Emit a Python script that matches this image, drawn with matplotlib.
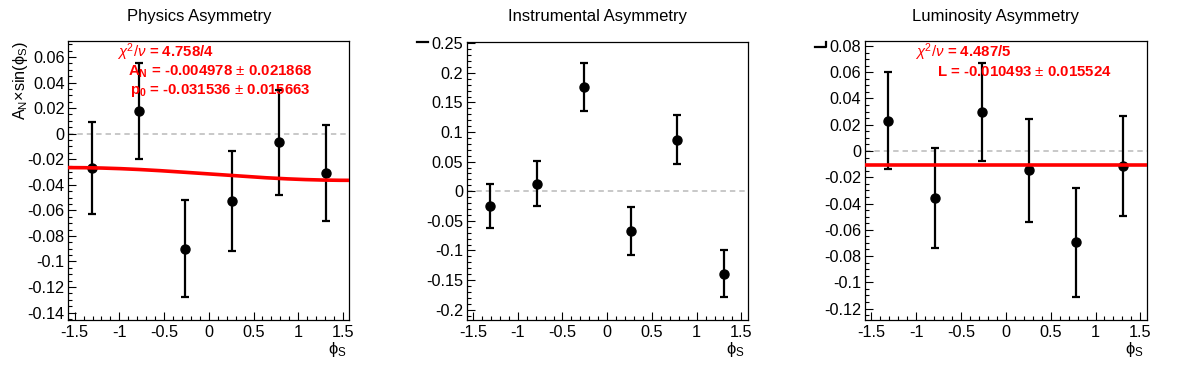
import numpy as np
import matplotlib
matplotlib.use("Agg")
import matplotlib.pyplot as plt
from matplotlib.ticker import MultipleLocator, AutoMinorLocator, FuncFormatter
from matplotlib.lines import Line2D

plt.rcParams['font.family'] = ['Liberation Sans', 'DejaVu Sans']
plt.rcParams['mathtext.fontset'] = 'custom'
plt.rcParams['mathtext.rm'] = 'Liberation Sans'
plt.rcParams['mathtext.it'] = 'Liberation Sans:italic'
plt.rcParams['mathtext.bf'] = 'Liberation Sans:bold'
plt.rcParams['mathtext.sf'] = 'Liberation Sans'
plt.rcParams['axes.unicode_minus'] = False

# ---------------- data ----------------
phi_bins = [-1.309, -0.785, -0.262, 0.262, 0.785, 1.309]

phys_vals = [-0.0267, 0.0179, -0.0900, -0.0525, -0.0069, -0.0305]
phys_errs = [0.0361, 0.0377, 0.0378, 0.0392, 0.0411, 0.0375]
phys_AN = -0.004978
phys_p0 = -0.031536

instr_vals = [-0.0246, 0.0130, 0.1768, -0.0670, 0.0873, -0.1390]
instr_errs = [0.0370, 0.0384, 0.0407, 0.0400, 0.0415, 0.0400]

lumi_vals = [0.0231, -0.0356, 0.0298, -0.0148, -0.0696, -0.0116]
lumi_errs = [0.0368, 0.0380, 0.0374, 0.0392, 0.0416, 0.0380]
lumi_L = -0.010493

titles = ["Physics Asymmetry", "Instrumental Asymmetry", "Luminosity Asymmetry"]
ylims = [(-0.1458, 0.0725), (-0.2175, 0.2530), (-0.1287, 0.0840)]
ymajor = [0.02, 0.05, 0.02]
yminor_div = [4, 5, 4]

phys_text = [r"$\chi^2/\nu$ = 4.758/4",
             r"A$_{\bf N}$ = -0.004978 $\pm$ 0.021868",
             r"p$_{\bf 0}$ = -0.031536 $\pm$ 0.015663"]
lumi_text = [r"$\chi^2/\nu$ = 4.487/5",
             r"L = -0.010493 $\pm$ 0.015524"]


def gfmt(v, pos):
    v = round(v, 6)
    if abs(v) < 1e-9:
        return "0"
    return "%g" % v


# ---------------- figure ----------------
W, H = 1196, 372
fig = plt.figure(figsize=(W / 100, H / 100), dpi=100)

# axes rectangles in pixels: left, top, right, bottom
rects = [(68.3, 41.0, 349.3, 320.0),
         (466.7, 41.5, 747.7, 320.0),
         (865.0, 40.7, 1146.7, 320.0)]
title_x = [199, 597, 996]

axes = []
for r in rects:
    l, t, rr, b = r
    ax = fig.add_axes([l / W, 1 - b / H, (rr - l) / W, (b - t) / H])
    axes.append(ax)

datasets = [(phys_vals, phys_errs), (instr_vals, instr_errs), (lumi_vals, lumi_errs)]

for i, ax in enumerate(axes):
    vals, errs = datasets[i]
    ax.set_xlim(-np.pi / 2, np.pi / 2)
    ax.set_ylim(*ylims[i])
    ax.axhline(0, color='#c4c4c4', lw=1.3, ls=(0, (3, 2.2)), zorder=1)
    ax.errorbar(phi_bins, vals, yerr=errs, fmt='o', color='black', ms=6.5,
                elinewidth=1.6, capsize=2.8, capthick=1.6, zorder=3)
    ax.xaxis.set_major_locator(MultipleLocator(0.5))
    ax.xaxis.set_minor_locator(AutoMinorLocator(5))
    ax.yaxis.set_major_locator(MultipleLocator(ymajor[i]))
    ax.yaxis.set_minor_locator(AutoMinorLocator(yminor_div[i]))
    ax.xaxis.set_major_formatter(FuncFormatter(gfmt))
    ax.yaxis.set_major_formatter(FuncFormatter(gfmt))
    ax.tick_params(which='both', direction='in', top=False, right=False,
                   width=0.8, labelsize=11.7, colors='black')
    ax.tick_params(which='major', length=6.0, pad=2.6)
    ax.tick_params(axis='x', which='major', pad=3.6)
    ax.tick_params(which='minor', length=2.9)
    for s in ax.spines.values():
        s.set_linewidth(0.9)
    fig.text(title_x[i] / W, 1 - 21 / H, titles[i], ha='center', va='baseline',
             fontsize=12)
    fig.text((rects[i][2] - 3) / W, 1 - 340 / H, r"$\mathrm{\phi}_{\rm S}$", ha='right',
             va='top', fontsize=12)

# fit curves
xf = np.linspace(-np.pi / 2, np.pi / 2, 200)
axes[0].plot(xf, phys_p0 + phys_AN * np.sin(xf), color='#ff0000', lw=2.6, zorder=4)
axes[2].plot(xf, np.full_like(xf, lumi_L), color='#ff0000', lw=2.6, zorder=4)

# fit text
phys_pos = [(117, 57.3), (128, 76.0), (130, 94.0)]
for txt, (px, py) in zip(phys_text, phys_pos):
    fig.text(px / W, 1 - py / H, txt, color='#ff0000', fontweight='bold',
             fontsize=10.8, ha='left', va='baseline', zorder=10)
lumi_pos = [(915, 57.3), (936.7, 76.0)]
for txt, (px, py) in zip(lumi_text, lumi_pos):
    fig.text(px / W, 1 - py / H, txt, color='#ff0000', fontweight='bold',
             fontsize=10.8, ha='left', va='baseline', zorder=10)

# y-axis title of first panel
fig.text(20 / W, 1 - 41 / H, r"A$_{\rm N}$$\times$sin($\mathrm{\phi}_{\rm S}$)", rotation=90,
         ha='center', va='top', fontsize=11.7)

# small stray marks left of panels 2 and 3
fig.add_artist(Line2D([417 / W, 428 / W], [1 - 41.5 / H, 1 - 41.5 / H],
                      color='black', lw=1.6, transform=fig.transFigure))
fig.add_artist(Line2D([815 / W, 826 / W, 826 / W], [1 - 47 / H, 1 - 47 / H, 1 - 41.5 / H],
                      color='black', lw=1.6, transform=fig.transFigure))

fig.savefig("out.png", dpi=100)
